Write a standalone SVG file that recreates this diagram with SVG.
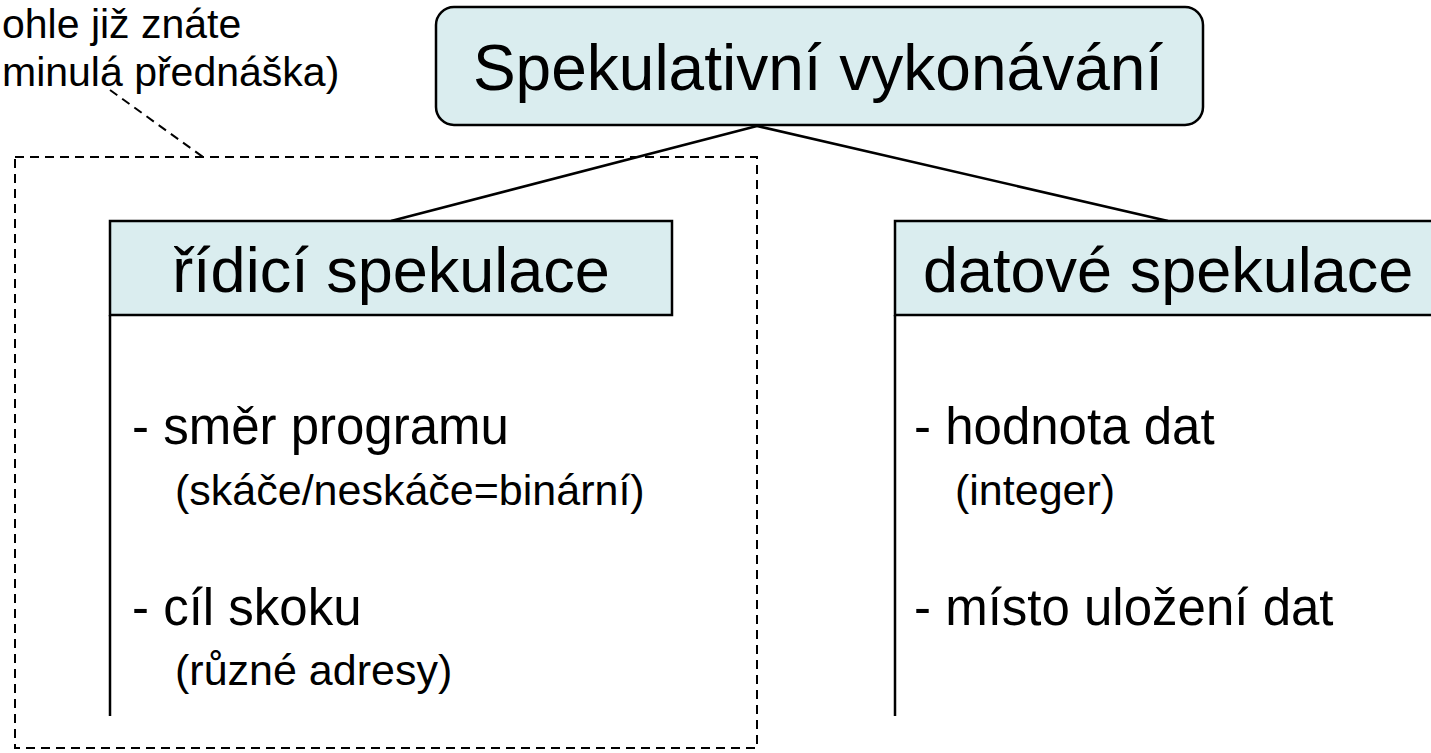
<svg xmlns="http://www.w3.org/2000/svg" width="1431" height="753" viewBox="0 0 1431 753">
<style>
text{font-family:"Liberation Sans",Arial,sans-serif;fill:#000}
.box{fill:#daedef;stroke:#000;stroke-width:2.5}
.t1{font-size:64px}
.t2{font-size:63px}
.b{font-size:51px}
.s{font-size:43px}
.note{font-size:41px}
.conn{stroke:#000;stroke-width:2.5;fill:none}
.dash{stroke:#000;stroke-width:2;fill:none;stroke-dasharray:9 6}
</style>
<g id="note">
<text class="note" x="2" y="38">ohle již znáte</text>
<text class="note" x="2" y="86">minulá přednáška)</text>
<path class="dash" d="M110 90 L203 157"/>
<rect class="dash" x="15" y="157" width="742" height="591"/>
</g>
<g id="connectors">
<path class="conn" d="M757 126 L391 221"/>
<path class="conn" d="M757 126 L1168 221"/>
<path class="conn" d="M110 315 V716"/>
<path class="conn" d="M895 315 V716"/>
</g>
<g id="root">
<rect class="box" x="436" y="7" width="767" height="118" rx="18"/>
<text class="t1" x="818" y="90" text-anchor="middle">Spekulativní vykonávání</text>
</g>
<g id="control">
<rect class="box" x="110" y="221" width="562" height="94"/>
<text class="t2" x="391" y="292" text-anchor="middle">řídicí spekulace</text>
<text class="b" x="132" y="444">- směr programu</text>
<text class="s" x="175" y="505">(skáče/neskáče=binární)</text>
<text class="b" x="132" y="625">- cíl skoku</text>
<text class="s" x="175" y="685">(různé adresy)</text>
</g>
<g id="data">
<rect class="box" x="895" y="221" width="560" height="94"/>
<text class="t2" x="923" y="292">datové spekulace</text>
<text class="b" x="914" y="444">- hodnota dat</text>
<text class="s" x="955" y="505">(integer)</text>
<text class="b" x="914" y="625">- místo uložení dat</text>
</g>
</svg>
